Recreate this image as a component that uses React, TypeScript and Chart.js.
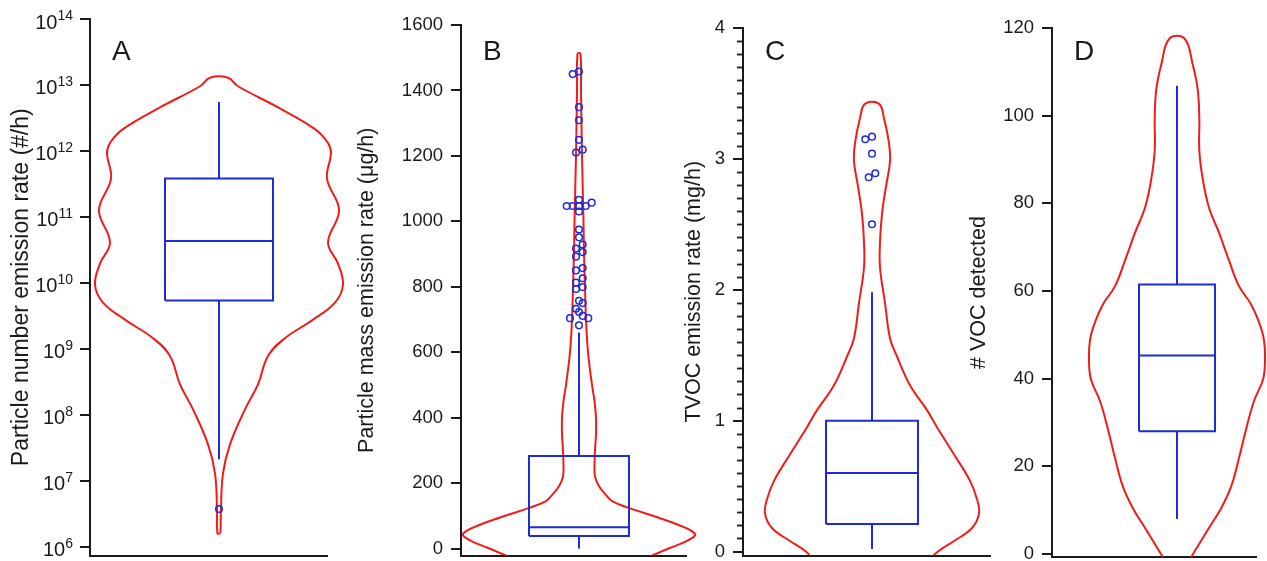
import React, { useEffect, useRef } from 'react';
import { Chart, registerables } from 'chart.js';

Chart.register(...registerables);

const W = 1267;
const H = 561;
const FONT = "'Liberation Sans', Arial, sans-serif";
const RED = '#f01c1c';
const BLUE = '#1f2ad8';
const INK = '#1a1a1a';

// ---------- Panel A : particle number emission rate (log10 #/h) ----------
const violinA_level = [6.2, 6.58, 7.11, 7.55, 8.08, 8.46, 8.89, 9.16, 9.43, 9.7, 9.97, 10.29, 10.61, 11.1, 11.58, 11.96, 12.12, 12.33, 12.66, 12.98, 13.11];
const violinA_width = [1.5, 2, 4, 11, 26, 39, 49, 66, 93, 116, 124, 119, 109, 120, 108, 112, 109, 96, 59, 19, 9];
const boxA = [2.1e7, 5.4e9, 4.3e10, 3.8e11, 5.5e12]; // whisker low, Q1, median, Q3, whisker high
const outliersA_value = [3.7e6];
const outliersA_jitter = [0];
const ticksA = [1e6, 1e7, 1e8, 1e9, 1e10, 1e11, 1e12, 1e13, 1e14];

// ---------- Panel B : particle mass emission rate (µg/h) ----------
const violinB_level = [-60, -27, 3, 15, 34, 45, 64, 95, 125, 145, 160, 190, 220, 250, 300, 350, 400, 450, 500, 600, 700, 800, 900, 1000, 1200, 1400, 1512];
const violinB_width = [45, 69, 92, 102, 114, 116, 106, 79, 49, 33, 28, 20, 16, 15.5, 16, 17, 17, 15.5, 13, 9, 7, 6, 5, 4.5, 3, 2, 1.5];
const boxB = [0, 38, 65, 283, 660];
const outliersB_value = [1450, 1458, 1349, 1309, 1249, 1210, 1219, 1047, 1047, 1047, 1047, 1057, 1066, 1030, 975, 951, 929, 917, 906, 892, 850, 857, 813, 826, 799, 793, 757, 750, 733, 723, 704, 711, 704, 682];
const outliersB_jitter = [-6.3, 0, 0, 0, 0, -3, 3.7, -12.3, -6.3, 0, 6.7, 12.7, 0, 0, 0, 0, 3.7, -3, 3.7, -3, -3, 3.7, -3, 3.7, 3.7, -3, 0, 3.7, -3, 0, -9, 3.7, 9.3, 0];
const ticksB = [0, 200, 400, 600, 800, 1000, 1200, 1400, 1600];

// ---------- Panel C : TVOC emission rate (mg/h) ----------
const violinC_level = [-0.1, 0, 0.08, 0.18, 0.29, 0.4, 0.54, 0.73, 0.95, 1.08, 1.27, 1.49, 1.63, 1.9, 2.17, 2.36, 2.58, 2.79, 2.98, 3.12, 3.31, 3.42];
const violinC_width = [52, 66, 82, 100, 107, 105, 98, 83, 65, 55, 38, 25, 18, 13, 8, 8, 10, 14, 18, 17, 12, 7];
const boxC = [0.02, 0.21, 0.6, 1.0, 1.98];
const outliersC_value = [3.15, 3.17, 3.04, 2.86, 2.89, 2.5];
const outliersC_jitter = [-6.7, 0, 0, -3.3, 3.3, 0];
const ticksC = [0, 1, 2, 3, 4];

// ---------- Panel D : number of VOC detected ----------
const violinD_level = [-3, 0, 5.6, 10.4, 15.3, 21.9, 28.4, 34.9, 39.8, 43.9, 48.8, 52.9, 57, 61.1, 67.6, 73.3, 79, 85.6, 92.1, 99.4, 106, 111.7, 117.6];
const violinD_width = [8, 16, 31, 44, 54, 62, 69, 77, 86, 88, 87, 82, 74, 62, 51, 42, 32, 25.7, 22.3, 22.3, 20.7, 15.7, 7.5];
const boxD = [8.0, 28.0, 45.3, 61.5, 106.8];
const outliersD_value: number[] = [];
const outliersD_jitter: number[] = [];
const ticksD = [0, 20, 40, 60, 80, 100, 120];

type Panel = {
  letter: string;
  title: string;
  titleSize: number;
  log: boolean;
  axisX: number;
  axisEnd: number;
  centerX: number;
  topY: number;
  lowTickY: number;
  axisY: number;
  titleX: number;
  boxHalf: number;
  minorStep?: number;
  ticks: number[];
  level: number[];
  width: number[];
  box: number[];
  outVal: number[];
  outJit: number[];
};

const panels: Panel[] = [
  { letter: 'A', title: 'Particle number emission rate (#/h)', titleSize: 23, log: true, axisX: 90, axisEnd: 327, centerX: 219, topY: 19, lowTickY: 548, axisY: 557, titleX: 22, boxHalf: 54, ticks: ticksA, level: violinA_level, width: violinA_width, box: boxA, outVal: outliersA_value, outJit: outliersA_jitter },
  { letter: 'B', title: 'Particle mass emission rate (\u03bcg/h)', titleSize: 21.5, log: false, axisX: 461, axisEnd: 686, centerX: 579, topY: 25, lowTickY: 550, axisY: 557, titleX: 367, boxHalf: 50, ticks: ticksB, level: violinB_level, width: violinB_width, box: boxB, outVal: outliersB_value, outJit: outliersB_jitter },
  { letter: 'C', title: 'TVOC emission rate (mg/h)', titleSize: 21.5, log: false, axisX: 743, axisEnd: 990, centerX: 872, topY: 28, lowTickY: 553, axisY: 557, titleX: 694, boxHalf: 46, minorStep: 0.1, ticks: ticksC, level: violinC_level, width: violinC_width, box: boxC, outVal: outliersC_value, outJit: outliersC_jitter },
  { letter: 'D', title: '# VOC detected', titleSize: 21.5, log: false, axisX: 1052, axisEnd: 1256, centerX: 1177, topY: 28, lowTickY: 554, axisY: 557, titleX: 979, boxHalf: 38, ticks: ticksD, level: violinD_level, width: violinD_width, box: boxD, outVal: outliersD_value, outJit: outliersD_jitter },
];

function makeConfig(p: Panel): any {
  const titleSize = p.titleSize;
  const scaleLeft = p.titleX - (titleSize * 1.2) / 2;
  const cx = p.centerX - p.axisX;
  const xMax = p.axisEnd - p.axisX;
  const lo = p.ticks[0];
  const hi = p.ticks[p.ticks.length - 1];
  let yMin: number;
  if (p.log) {
    const decadePx = (p.lowTickY - p.topY) / (Math.log10(hi) - Math.log10(lo));
    yMin = Math.pow(10, Math.log10(lo) - (p.axisY - p.lowTickY) / decadePx);
  } else {
    const unitPx = (p.lowTickY - p.topY) / (hi - lo);
    yMin = lo - (p.axisY - p.lowTickY) / unitPx;
  }
  const toY = (v: number) => (p.log ? Math.pow(10, v) : v);

  const rightSide = p.level.map((v, i) => ({ x: cx + p.width[i], y: toY(v) }));
  const leftSide = p.level.map((v, i) => ({ x: cx - p.width[i], y: toY(v) })).reverse();
  const outline = [...rightSide, ...leftSide, rightSide[0]];

  const [wLo, q1, med, q3, wHi] = p.box;
  const bh = p.boxHalf;
  const boxLine = (data: { x: number; y: number }[]) => ({
    data,
    showLine: true,
    borderColor: BLUE,
    borderWidth: 2,
    pointRadius: 0,
    tension: 0,
    fill: false,
  });

  const datasets: any[] = [
    {
      data: p.outVal.map((v, i) => ({ x: cx + p.outJit[i], y: v })),
      showLine: false,
      pointRadius: 3.3,
      pointBorderWidth: 1.5,
      pointBorderColor: BLUE,
      pointBackgroundColor: 'rgba(0,0,0,0)',
      pointStyle: 'circle',
    },
    boxLine([{ x: cx - bh, y: q1 }, { x: cx + bh, y: q1 }, { x: cx + bh, y: q3 }, { x: cx - bh, y: q3 }, { x: cx - bh, y: q1 }]),
    boxLine([{ x: cx - bh, y: med }, { x: cx + bh, y: med }]),
    boxLine([{ x: cx, y: q3 }, { x: cx, y: wHi }]),
    boxLine([{ x: cx, y: wLo }, { x: cx, y: q1 }]),
    {
      data: outline,
      showLine: true,
      borderColor: RED,
      borderWidth: 2,
      pointRadius: 0,
      tension: 0.4,
      fill: false,
      clip: { left: 60, right: 60, top: 0, bottom: 0 },
    },
  ];

  const overlay = {
    id: 'overlay' + p.letter,
    afterDraw(chart: any) {
      const ctx = chart.ctx as CanvasRenderingContext2D;
      const ys = chart.scales.y;
      ctx.save();
      ctx.fillStyle = INK;
      ctx.font = `28px ${FONT}`;
      ctx.textAlign = 'left';
      ctx.textBaseline = 'alphabetic';
      ctx.fillText(p.letter, p.axisX + 22, 60);
      if (p.log) {
        for (const v of p.ticks) {
          const y = ys.getPixelForValue(v);
          const exp = String(Math.round(Math.log10(v)));
          ctx.font = `14px ${FONT}`;
          const ew = ctx.measureText(exp).width;
          const right = p.axisX - 17;
          ctx.textAlign = 'right';
          ctx.textBaseline = 'alphabetic';
          ctx.fillText(exp, right, y + 1);
          ctx.font = `20px ${FONT}`;
          ctx.textBaseline = 'middle';
          ctx.fillText('10', right - ew, y + 4);
        }
      }
      if (p.minorStep) {
        ctx.strokeStyle = INK;
        ctx.lineWidth = 1.8;
        const n = Math.round((hi - lo) / p.minorStep);
        for (let k = 1; k < n; k++) {
          if (k % 10 === 0) continue;
          const y = Math.round(ys.getPixelForValue(lo + k * p.minorStep)) + 0.5;
          ctx.beginPath();
          ctx.moveTo(p.axisX - 6, y);
          ctx.lineTo(p.axisX, y);
          ctx.stroke();
        }
      }
      ctx.restore();
    },
  };

  return {
    type: 'scatter',
    data: { datasets },
    plugins: [overlay],
    options: {
      responsive: false,
      maintainAspectRatio: false,
      devicePixelRatio: 1,
      animation: false,
      events: [],
      layout: {
        padding: { left: scaleLeft, right: W - p.axisEnd, top: p.topY, bottom: H - p.axisY },
      },
      elements: { line: { capBezierPoints: false } },
      plugins: { legend: { display: false }, tooltip: { enabled: false } },
      scales: {
        x: {
          type: 'linear',
          min: 0,
          max: xMax,
          ticks: { display: false },
          grid: { display: false, drawTicks: false },
          border: { display: true, color: INK, width: 2 },
          afterFit: (s: any) => {
            s.height = 0;
            s.paddingLeft = 0;
            s.paddingRight = 0;
            s.paddingTop = 0;
            s.paddingBottom = 0;
          },
        },
        y: {
          type: p.log ? 'logarithmic' : 'linear',
          min: yMin,
          max: hi,
          afterBuildTicks: (s: any) => {
            s.ticks = p.ticks.map((v) => ({ value: v }));
          },
          ticks: {
            autoSkip: false,
            padding: 8,
            color: INK,
            font: { family: FONT, size: 18.5 },
            callback: (v: any) => (p.log ? '' : String(v)),
          },
          grid: {
            drawOnChartArea: false,
            drawTicks: true,
            tickLength: 10,
            color: INK,
            lineWidth: 2,
          },
          border: { display: true, color: INK, width: 2 },
          title: {
            display: true,
            text: p.title,
            color: INK,
            font: { family: FONT, size: titleSize, lineHeight: 1.2 },
            padding: { top: 0, bottom: 0 },
          },
          afterFit: (s: any) => {
            s.width = p.axisX - scaleLeft;
            s.paddingTop = 0;
            s.paddingBottom = 0;
            s.paddingLeft = 0;
            s.paddingRight = 0;
          },
        },
      },
    },
  };
}

export default function App() {
  const refs = useRef<(HTMLCanvasElement | null)[]>([]);

  useEffect(() => {
    const charts = panels.map((p, i) => new Chart(refs.current[i] as HTMLCanvasElement, makeConfig(p)));
    return () => charts.forEach((c) => c.destroy());
  }, []);

  return (
    <div style={{ position: 'fixed', left: 0, top: 0, width: W, height: H, background: '#ffffff' }}>
      {panels.map((p, i) => (
        <canvas
          key={p.letter}
          ref={(el) => {
            refs.current[i] = el;
          }}
          width={W}
          height={H}
          style={{ position: 'absolute', left: 0, top: 0, width: W, height: H }}
        />
      ))}
    </div>
  );
}
